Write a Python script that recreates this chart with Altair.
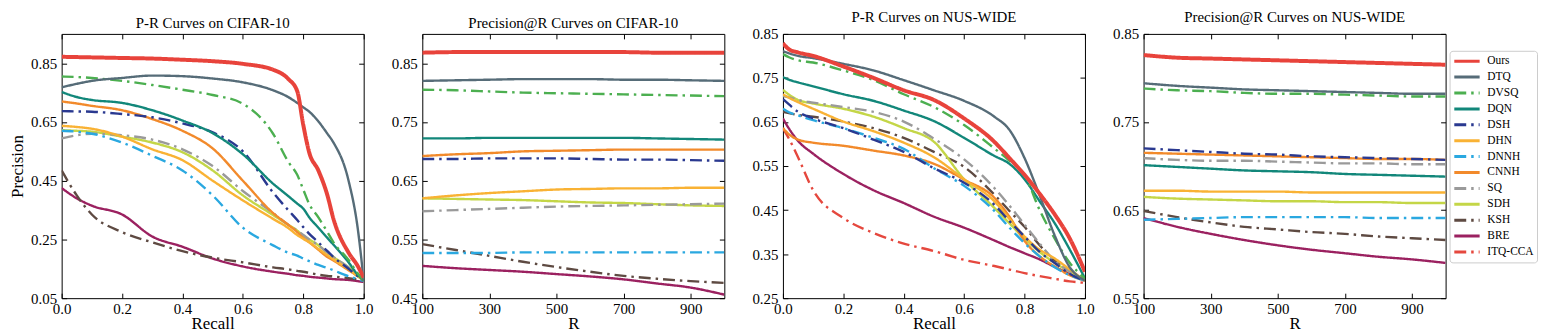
import altair as alt
import pandas as pd

METHODS = ["Ours", "DTQ", "DVSQ", "DQN", "DSH", "DHN", "DNNH", "CNNH", "SQ", "SDH", "KSH", "BRE", "ITQ-CCA"]
COLORS = ["#E8433B", "#566C78", "#4CAF50", "#12877A", "#2A3990", "#F9B234", "#2AA8E0",
          "#F28A2B", "#9A9A9A", "#C4D647", "#5E4A42", "#9B2160", "#E5483E"]
DASHED = ["DVSQ", "DSH", "DNNH", "SQ", "KSH", "ITQ-CCA"]

# ---- P-R curves on CIFAR-10 ----
RECALL_CIFAR = [0, 0.05, 0.1, 0.2, 0.3, 0.4, 0.5, 0.6, 0.7, 0.75, 0.78, 0.8, 0.82, 0.85, 0.88, 0.9, 0.95, 0.98, 1.0]
PR_CIFAR = {
    "Ours": [0.872, 0.871, 0.870, 0.868, 0.866, 0.862, 0.857, 0.848, 0.828, 0.797, 0.755, 0.64, 0.545, 0.485, 0.40, 0.32, 0.205, 0.16, 0.12],
    "DTQ": [0.768, 0.78, 0.79, 0.80, 0.808, 0.806, 0.798, 0.785, 0.758, 0.735, 0.715, 0.70, 0.685, 0.652, 0.61, 0.58, 0.45, 0.29, 0.11],
    "DVSQ": [0.805, 0.803, 0.80, 0.79, 0.776, 0.76, 0.742, 0.712, 0.61, 0.515, 0.47, 0.42, 0.37, 0.325, 0.275, 0.24, 0.18, 0.135, 0.11],
    "DQN": [0.752, 0.735, 0.725, 0.715, 0.69, 0.655, 0.612, 0.54, 0.44, 0.398, 0.372, 0.355, 0.325, 0.29, 0.255, 0.232, 0.172, 0.13, 0.11],
    "DSH": [0.687, 0.686, 0.685, 0.677, 0.666, 0.645, 0.615, 0.55, 0.41, 0.35, 0.316, 0.292, 0.269, 0.24, 0.21, 0.19, 0.15, 0.125, 0.11],
    "DHN": [0.637, 0.633, 0.627, 0.60, 0.557, 0.52, 0.45, 0.383, 0.32, 0.289, 0.265, 0.252, 0.24, 0.218, 0.196, 0.182, 0.148, 0.125, 0.11],
    "DNNH": [0.62, 0.617, 0.61, 0.58, 0.535, 0.485, 0.40, 0.29, 0.23, 0.205, 0.195, 0.185, 0.176, 0.163, 0.153, 0.145, 0.125, 0.115, 0.108],
    "CNNH": [0.72, 0.713, 0.705, 0.69, 0.66, 0.62, 0.56, 0.45, 0.34, 0.30, 0.275, 0.255, 0.24, 0.215, 0.19, 0.178, 0.145, 0.125, 0.11],
    "SQ": [0.594, 0.605, 0.61, 0.605, 0.59, 0.557, 0.50, 0.415, 0.34, 0.30, 0.28, 0.265, 0.25, 0.23, 0.205, 0.19, 0.155, 0.13, 0.11],
    "SDH": [0.622, 0.62, 0.617, 0.60, 0.58, 0.547, 0.485, 0.40, 0.333, 0.30, 0.28, 0.262, 0.25, 0.23, 0.205, 0.19, 0.155, 0.13, 0.11],
    "KSH": [0.485, 0.40, 0.335, 0.275, 0.24, 0.21, 0.188, 0.172, 0.155, 0.148, 0.143, 0.14, 0.136, 0.13, 0.126, 0.124, 0.118, 0.113, 0.108],
    "BRE": [0.425, 0.39, 0.365, 0.335, 0.26, 0.225, 0.185, 0.158, 0.14, 0.133, 0.128, 0.126, 0.123, 0.12, 0.117, 0.115, 0.112, 0.108, 0.105],
}

# ---- Precision@R on CIFAR-10 ----
R_VALUES = [100, 200, 300, 400, 500, 600, 700, 800, 900, 1000]
PAR_CIFAR = {
    "Ours": [0.868, 0.869, 0.869, 0.869, 0.869, 0.869, 0.869, 0.868, 0.868, 0.868],
    "DTQ": [0.820, 0.821, 0.822, 0.823, 0.823, 0.823, 0.822, 0.822, 0.821, 0.820],
    "DVSQ": [0.805, 0.804, 0.802, 0.800, 0.799, 0.798, 0.797, 0.796, 0.795, 0.794],
    "DQN": [0.722, 0.722, 0.723, 0.723, 0.723, 0.723, 0.723, 0.722, 0.721, 0.720],
    "DSH": [0.687, 0.687, 0.688, 0.688, 0.688, 0.687, 0.686, 0.686, 0.685, 0.684],
    "DHN": [0.620, 0.625, 0.629, 0.632, 0.635, 0.636, 0.637, 0.637, 0.638, 0.638],
    "DNNH": [0.527, 0.527, 0.527, 0.528, 0.528, 0.528, 0.528, 0.528, 0.528, 0.528],
    "CNNH": [0.692, 0.695, 0.697, 0.700, 0.701, 0.702, 0.703, 0.703, 0.703, 0.703],
    "SQ": [0.598, 0.600, 0.602, 0.604, 0.606, 0.607, 0.608, 0.609, 0.610, 0.611],
    "SDH": [0.620, 0.619, 0.618, 0.617, 0.615, 0.613, 0.612, 0.610, 0.608, 0.607],
    "KSH": [0.542, 0.532, 0.522, 0.512, 0.503, 0.495, 0.488, 0.483, 0.479, 0.476],
    "BRE": [0.505, 0.501, 0.498, 0.495, 0.491, 0.487, 0.482, 0.475, 0.468, 0.456],
}

# ---- P-R curves on NUS-WIDE ----
RECALL_NUS = [0, 0.02, 0.05, 0.1, 0.2, 0.3, 0.4, 0.5, 0.6, 0.7, 0.75, 0.8, 0.85, 0.9, 0.95, 1.0]
PR_NUS = {
    "Ours": [0.829, 0.815, 0.808, 0.80, 0.776, 0.75, 0.722, 0.70, 0.658, 0.605, 0.568, 0.53, 0.487, 0.44, 0.385, 0.31],
    "DTQ": [0.811, 0.806, 0.80, 0.795, 0.782, 0.767, 0.745, 0.722, 0.698, 0.662, 0.632, 0.568, 0.483, 0.392, 0.32, 0.29],
    "DVSQ": [0.804, 0.797, 0.79, 0.785, 0.767, 0.745, 0.713, 0.684, 0.643, 0.59, 0.562, 0.53, 0.45, 0.385, 0.33, 0.295],
    "DQN": [0.752, 0.746, 0.74, 0.731, 0.713, 0.698, 0.676, 0.652, 0.614, 0.573, 0.555, 0.52, 0.47, 0.42, 0.36, 0.295],
    "DSH": [0.702, 0.69, 0.673, 0.658, 0.636, 0.61, 0.582, 0.545, 0.512, 0.462, 0.425, 0.39, 0.355, 0.33, 0.305, 0.29],
    "DHN": [0.713, 0.705, 0.695, 0.68, 0.651, 0.629, 0.603, 0.57, 0.52, 0.47, 0.43, 0.39, 0.36, 0.34, 0.315, 0.29],
    "DNNH": [0.68, 0.672, 0.665, 0.654, 0.636, 0.614, 0.589, 0.545, 0.505, 0.448, 0.41, 0.375, 0.345, 0.32, 0.302, 0.29],
    "CNNH": [0.636, 0.622, 0.61, 0.603, 0.596, 0.585, 0.574, 0.555, 0.519, 0.478, 0.435, 0.38, 0.345, 0.322, 0.302, 0.29],
    "SQ": [0.709, 0.706, 0.70, 0.694, 0.684, 0.673, 0.651, 0.612, 0.565, 0.50, 0.46, 0.417, 0.374, 0.335, 0.31, 0.29],
    "SDH": [0.723, 0.712, 0.70, 0.692, 0.68, 0.662, 0.636, 0.605, 0.52, 0.455, 0.42, 0.385, 0.355, 0.33, 0.31, 0.29],
    "KSH": [0.673, 0.67, 0.666, 0.662, 0.651, 0.636, 0.614, 0.582, 0.548, 0.485, 0.448, 0.412, 0.37, 0.335, 0.31, 0.29],
    "BRE": [0.658, 0.635, 0.607, 0.578, 0.532, 0.495, 0.466, 0.435, 0.41, 0.381, 0.366, 0.352, 0.338, 0.321, 0.305, 0.29],
    "ITQ-CCA": [0.636, 0.612, 0.57, 0.495, 0.432, 0.398, 0.374, 0.357, 0.337, 0.323, 0.315, 0.307, 0.30, 0.294, 0.288, 0.285],
}

# ---- Precision@R on NUS-WIDE ----
PAR_NUS = {
    "Ours": [0.826, 0.823, 0.822, 0.821, 0.820, 0.819, 0.818, 0.817, 0.816, 0.815],
    "DTQ": [0.794, 0.791, 0.789, 0.787, 0.786, 0.785, 0.784, 0.783, 0.782, 0.782],
    "DVSQ": [0.788, 0.786, 0.785, 0.783, 0.782, 0.782, 0.781, 0.780, 0.779, 0.779],
    "DQN": [0.701, 0.699, 0.697, 0.695, 0.694, 0.693, 0.691, 0.690, 0.689, 0.688],
    "DSH": [0.720, 0.718, 0.716, 0.714, 0.713, 0.711, 0.710, 0.709, 0.708, 0.707],
    "DHN": [0.672, 0.672, 0.671, 0.671, 0.671, 0.670, 0.670, 0.670, 0.670, 0.670],
    "DNNH": [0.639, 0.640, 0.641, 0.642, 0.642, 0.642, 0.642, 0.641, 0.641, 0.641],
    "CNNH": [0.715, 0.714, 0.713, 0.712, 0.711, 0.710, 0.709, 0.708, 0.708, 0.707],
    "SQ": [0.709, 0.707, 0.706, 0.706, 0.705, 0.704, 0.703, 0.703, 0.702, 0.702],
    "SDH": [0.665, 0.663, 0.662, 0.661, 0.660, 0.660, 0.659, 0.659, 0.658, 0.658],
    "KSH": [0.649, 0.642, 0.636, 0.631, 0.628, 0.625, 0.623, 0.620, 0.618, 0.616],
    "BRE": [0.641, 0.631, 0.623, 0.616, 0.610, 0.605, 0.601, 0.597, 0.594, 0.590],
}

PANEL_TITLES = ["P-R Curves on CIFAR-10", "Precision@R Curves on CIFAR-10",
                "P-R Curves on NUS-WIDE", "Precision@R Curves on NUS-WIDE"]
RECALL_TICKS = [0.0, 0.2, 0.4, 0.6, 0.8, 1.0]
R_TICKS = [100, 300, 500, 700, 900]

FONT = "Liberation Serif"
W, H = 304, 266
DASH_DD = [12, 5, 2.5, 5]
DASHES = [DASH_DD if m in DASHED else [1, 0] for m in METHODS]


def make_df(xs, table):
    rows = []
    for m in reversed(METHODS):  # Ours drawn last (on top)
        if m in table:
            for xv, yv in zip(xs, table[m]):
                rows.append({"x": xv, "y": yv, "method": m})
    return pd.DataFrame(rows)


def panel(df, title, xdom, xticks, xfmt, xtitle, ydom, yticks, ytitle):
    xs = alt.Scale(domain=xdom, nice=False, zero=False)
    ys = alt.Scale(domain=ydom, nice=False, zero=False)
    lines = alt.Chart(df).mark_line(interpolate="monotone", clip=True).encode(
        x=alt.X("x:Q", scale=xs, axis=alt.Axis(
            values=xticks, format=xfmt, title=xtitle, orient="bottom", offset=-5, tickSize=5,
            domain=False, labelPadding=3, titlePadding=0, labelFlush=False, labelOverlap=False)),
        y=alt.Y("y:Q", scale=ys, axis=alt.Axis(
            values=yticks, format=".2f", title=ytitle, orient="left", offset=-5, tickSize=5,
            domain=False, labelPadding=5, titlePadding=4, labelFlush=False, labelOverlap=False)),
        color=alt.Color("method:N", scale=alt.Scale(domain=METHODS, range=COLORS), title=None),
        strokeDash=alt.StrokeDash("method:N", scale=alt.Scale(domain=METHODS, range=DASHES), title=None),
        strokeWidth=alt.condition(alt.datum.method == "Ours", alt.value(4), alt.value(2.4)),
    )
    frame = alt.Chart(df).mark_point(opacity=0).encode(
        x=alt.X("x:Q", scale=xs, axis=alt.Axis(
            values=xticks, orient="top", offset=-5, tickSize=5, labels=False, domain=False, title=None)),
        y=alt.Y("y:Q", scale=ys, axis=alt.Axis(
            values=yticks, orient="right", offset=-5, tickSize=5, labels=False, domain=False, title=None)),
    )
    return alt.layer(lines, frame).resolve_axis(x="independent", y="independent").properties(
        width=W, height=H, title=title)


p1 = panel(make_df(RECALL_CIFAR, PR_CIFAR), PANEL_TITLES[0], [0, 1], RECALL_TICKS, ".1f", "Recall",
           [0.05, 0.95], [0.05, 0.25, 0.45, 0.65, 0.85], "Precision")
p2 = panel(make_df(R_VALUES, PAR_CIFAR), PANEL_TITLES[1], [100, 1000], R_TICKS, "d", "R",
           [0.45, 0.9], [0.45, 0.55, 0.65, 0.75, 0.85], None)
p3 = panel(make_df(RECALL_NUS, PR_NUS), PANEL_TITLES[2], [0, 1], RECALL_TICKS, ".1f", "Recall",
           [0.25, 0.85], [0.25, 0.35, 0.45, 0.55, 0.65, 0.75, 0.85], None)
p4 = panel(make_df(R_VALUES, PAR_NUS), PANEL_TITLES[3], [100, 1000], R_TICKS, "d", "R",
           [0.55, 0.85], [0.55, 0.65, 0.75, 0.85], None)

chart = alt.hconcat(p1, p2, p3, p4, spacing=59, bounds="flush").properties(
    padding=0
).configure_view(
    stroke="black", strokeWidth=1
).configure_axis(
    labelFont=FONT, labelFontSize=15, labelColor="black",
    titleFont=FONT, titleFontSize=17, titleFontWeight="normal", titleColor="black",
    tickColor="black", tickWidth=1, grid=False
).configure_title(
    font=FONT, fontSize=15, fontWeight="normal", color="black", offset=2
).configure_legend(
    orient="none", legendX=1397, legendY=17,
    labelFont=FONT, labelFontSize=11.5, labelColor="black",
    symbolType="stroke", symbolSize=650, symbolStrokeWidth=3,
    clipHeight=15, rowPadding=1, padding=3, labelOffset=6,
    strokeColor="#cccccc", fillColor="white", cornerRadius=3
)

chart.save("out.html", embed_options={"renderer": "svg", "actions": False})
